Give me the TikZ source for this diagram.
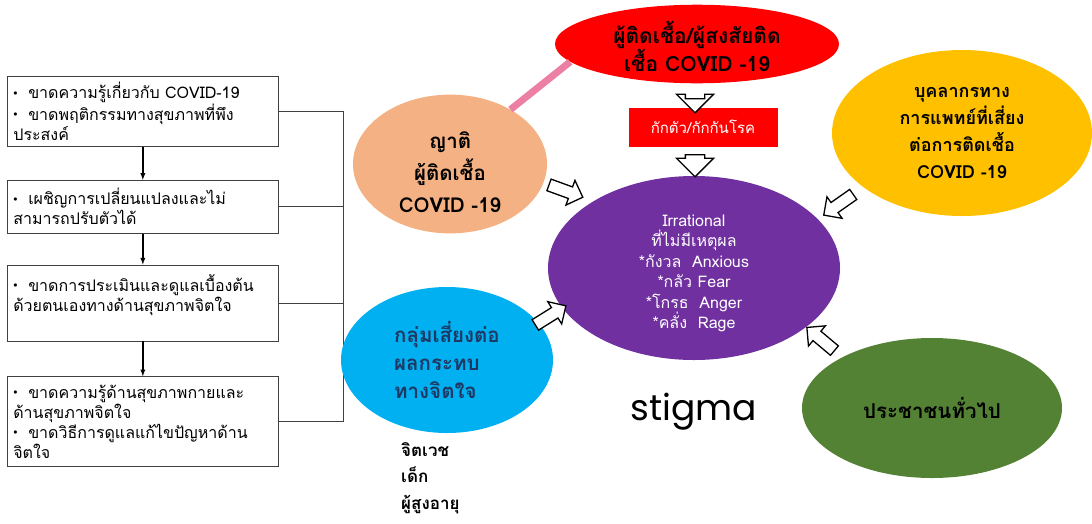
\documentclass[tikz,border=0pt]{standalone}
\usepackage{fontspec}
\setmainfont{Loma}[Script=Thai]
\newfontfamily\stigmafont{Poppins}
\usetikzlibrary{shapes.geometric, shapes.arrows}
\usetikzlibrary{positioning}

\definecolor{infected_red}{HTML}{FF0000}
\definecolor{link_pink}{HTML}{EC7FA4}
\definecolor{relative_peach}{HTML}{F4B183}
\definecolor{stigma_purple}{HTML}{7030A0}
\definecolor{staff_yellow}{HTML}{FFC000}
\definecolor{risk_blue}{HTML}{00B0F0}
\definecolor{risk_text}{HTML}{1F3864}
\definecolor{public_green}{HTML}{548235}

\newcommand{\dotitem}{\raisebox{3.5pt}{\footnotesize$\bullet$}\ \ }
\newcommand{\pushdown}[1]{\rule{0pt}{#1}} % taller first line, text sits lower

\tikzstyle{cause_box} = [
    rectangle,
    draw=black!75,
    line width=0.7pt,
    align=left,
    text width=259pt,
    inner sep=6pt,
    font=\fontsize{16}{20}\selectfont
]
\tikzstyle{group_ellipse} = [
    ellipse,
    draw=none,
    align=center,
    inner sep=0pt,
    font=\bfseries
]
\tikzstyle{hollow_arrow} = [
    single arrow,
    draw=black,
    fill=white,
    line width=1.3pt,
    inner xsep=0pt,
    inner ysep=5.5pt, % half the shaft
    minimum height=36pt,
    single arrow head extend=7pt
]

\begin{document}
\begin{tikzpicture}[x=1pt, y=-1pt]
\useasboundingbox (0,0) rectangle (1092,523);

% chain of causes on the left
\node [cause_box, minimum height=69pt, anchor=north west] (b1) at (7,76)
    {\dotitem ขาดความรู้เกี่ยวกับ COVID-19\\
     \dotitem ขาดพฤติกรรมทางสุขภาพที่พึง\\
     ประสงค์};
\node [cause_box, minimum height=53pt, below=33pt of b1] (b2)
    {\dotitem เผชิญการเปลี่ยนแปลงและไม่\\
     สามารถปรับตัวได้};
\node [cause_box, minimum height=76pt, below=31pt of b2] (b3)
    {\dotitem ขาดการประเมินและดูแลเบื้องต้น\\
     ด้วยตนเองทางด้านสุขภาพจิตใจ\\ ~};
\node [cause_box, minimum height=90pt, below=35pt of b3] (b4)
    {\dotitem ขาดความรู้ด้านสุขภาพกายและ\\
     ด้านสุขภาพจิตใจ\\
     \dotitem ขาดวิธีการดูแลแก้ไขปัญหาด้าน\\
     จิตใจ};

\foreach \a/\b in {b1/b2, b2/b3, b3/b4}
    \draw [-latex, line width=1.3pt] (\a) -- (\b);

\coordinate (bus) at (343,0);
\draw [line width=0.7pt, black!75] (b1.east -| bus) -- (b4.east -| bus);
\foreach \b in {b1, b2, b3, b4}
    \draw [line width=0.7pt, black!75] (\b.east) -- (\b.east -| bus);

% groups round the stigma
\node [group_ellipse, fill=stigma_purple, text=white, minimum width=292pt, minimum height=184pt,
       font=\fontsize{16}{20.5}\selectfont] (stigma) at (694,268)
    {\pushdown{22pt}Irrational\\ที่ไม่มีเหตุผล\\*กังวล\ \ Anxious\\*กลัว Fear\\*โกรธ\ \ Anger\\*คลั่ง\ \ Rage};

\node [group_ellipse, fill=infected_red, minimum width=284pt, minimum height=78pt,
       font=\bfseries\fontsize{21}{26}\selectfont] (infected) at (697,44)
    {\pushdown{27pt}ผู้ติดเชื้อ/ผู้สงสัยติด\\เชื้อ COVID -19};
\node [rectangle, fill=infected_red, text=white, minimum width=149pt, minimum height=39pt,
       font=\fontsize{15}{18}\selectfont] (quarantine) at (703,127) {กักตัว/กักกันโรค};

\node [group_ellipse, fill=relative_peach, minimum width=194pt, minimum height=128pt,
       font=\bfseries\fontsize{20.5}{32}\selectfont] (relative) at (450,164)
    {\pushdown{34pt}ญาติ\\ผู้ติดเชื้อ\\COVID -19};
\draw [link_pink, line width=7pt] (infected.188) -- (relative.42);

\node [group_ellipse, fill=staff_yellow, minimum width=260pt, minimum height=166pt,
       font=\bfseries\fontsize{18}{27}\selectfont] (staff) at (962,133)
    {บุคลากรทาง\\การแพทย์ที่เสี่ยง\\ต่อการติดเชื้อ\\COVID -19};

\node [group_ellipse, fill=risk_blue, text=risk_text, align=left, minimum width=212pt,
       minimum height=146pt, font=\bfseries\fontsize{20.5}{28}\selectfont] (risk) at (447,360)
    {กลุ่มเสี่ยงต่อ\\ผลกระทบ\\ทางจิตใจ};
\node [align=left, anchor=north west, inner sep=0pt,
       font=\bfseries\fontsize{17}{26.5}\selectfont] (risk_list) at (401,442)
    {จิตเวช\\เด็ก\\ผู้สูงอายุ};

\node [group_ellipse, fill=public_green, minimum width=260pt, minimum height=140pt,
       font=\bfseries\fontsize{20.5}{24}\selectfont] (public) at (932,408) {ประชาชนทั่วไป};

\node [font=\stigmafont\fontsize{36}{40}\selectfont] (stigma_word) at (694,412) {stigma};

% hollow arrows
\node [hollow_arrow, rotate=-90, minimum height=14pt, inner ysep=9pt,
       single arrow head extend=9pt] (arrow_a) at (695,101) {};
\node [hollow_arrow, rotate=-90, minimum height=22pt, inner ysep=9pt,
       single arrow head extend=9pt] (arrow_b) at (695,161) {};
\node [hollow_arrow, rotate=-20] (arrow_c) at (563,190) {};
\node [hollow_arrow, rotate=-145] (arrow_d) at (841,203) {};
\node [hollow_arrow, rotate=32] (arrow_e) at (548,317) {};
\node [hollow_arrow, rotate=140] (arrow_f) at (823,341) {};
\end{tikzpicture}
\end{document}
